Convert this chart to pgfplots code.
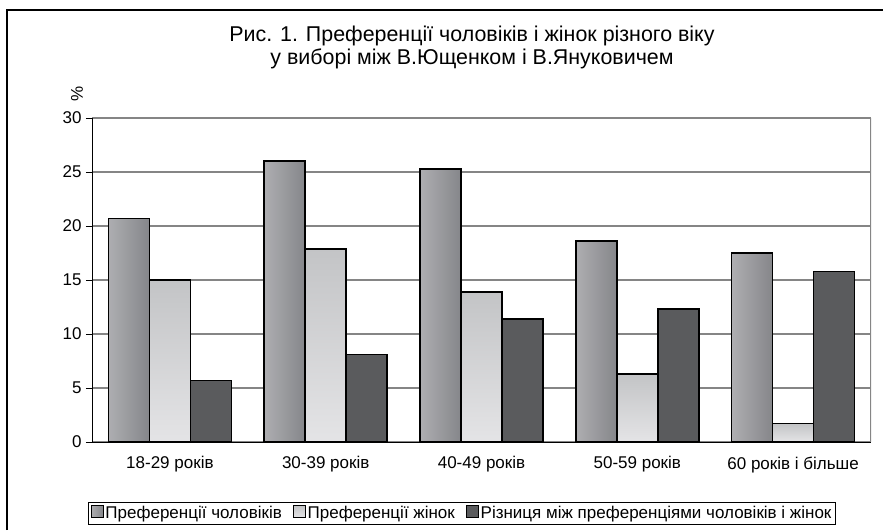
\documentclass[border=0pt]{standalone}
\usepackage{fontspec}
\setmainfont{Liberation Sans}
\usepackage{pgfplots}
\pgfplotsset{compat=1.18}
\definecolor{menL}{HTML}{AEAEB1}
\definecolor{menR}{HTML}{85868A}
\definecolor{womT}{HTML}{C3C4C6}
\definecolor{womB}{HTML}{E4E4E6}
\definecolor{diffC}{HTML}{5A5B5D}
\definecolor{gridC}{HTML}{858585}
\pgfplotsset{
  menbar/.style={draw=black, line width=1.7pt, left color=menL, right color=menR, bar shift=-41pt, forget plot},
  wombar/.style={draw=black, line width=1.7pt, top color=womT, bottom color=womB, bar shift=0pt, forget plot},
  difbar/.style={draw=black, line width=1.7pt, fill=diffC, bar shift=41pt, forget plot},
}
\begin{document}
\begin{tikzpicture}
\useasboundingbox (0pt,0pt) rectangle (883pt,530pt);
\draw[line width=1.2pt] (7pt,0pt) -- (7pt,520pt) -- (884pt,520pt);
\node[anchor=base,font=\fontsize{21.4}{24}\selectfont] at (472pt,488pt) {Рис. 1. Преференції чоловіків і жінок різного віку};
\node[anchor=base,font=\fontsize{21.4}{24}\selectfont] at (472pt,465pt) {у виборі між В.Ющенком і В.Януковичем};
\node[rotate=90,font=\fontsize{17}{20}\selectfont] at (77pt,436pt) {\%};
\begin{axis}[
  at={(92pt,88pt)}, anchor=south west,
  width=779pt, height=324pt, scale only axis,
  xmin=-0.5, xmax=4.5, ymin=0, ymax=30,
  ybar, bar width=41pt,
  ytick={0,5,...,30},
  xtick={0,1,2,3,4},
  xticklabels={18-29 років,30-39 років,40-49 років,50-59 років,60 років і більше},
  extra x ticks={0.5,1.5,2.5,3.5},
  extra x tick labels={},
  extra x tick style={major tick length=6pt, tick style={black, line width=0.8pt}},
  major x tick style={draw=none},
  tick align=outside,
  xtick pos=bottom, ytick pos=left,
  major tick length=6pt,
  ytick style={black, line width=0.8pt},
  axis x line*=bottom, axis y line*=left,
  axis line style={black, line width=1pt, -},
  ymajorgrids, grid style={gridC, line width=1.3pt},
  ticklabel style={font=\fontsize{17}{20}\selectfont},
  /pgf/number format/assume math mode=true,
  yticklabel style={xshift=-1pt},
  xticklabel style={yshift=-5pt},
  legend columns=-1,
  legend style={at={(0.475,-0.219)}, anchor=center, draw=black, line width=0.6pt,
    font=\fontsize{17}{20}\selectfont, inner sep=2pt,
    /tikz/every even column/.append style={column sep=9pt}},
  legend image code/.code={\draw[#1, line width=0.8pt] (0pt,-4.5pt) rectangle (12pt,7.5pt);},
  legend cell align=left,
]
% Преференції чоловіків
\addplot[menbar] coordinates {(0,20.7)};
\addplot[menbar] coordinates {(1,26.0)};
\addplot[menbar] coordinates {(2,25.3)};
\addplot[menbar] coordinates {(3,18.6)};
\addplot[menbar] coordinates {(4,17.5)};
% Преференції жінок
\addplot[wombar] coordinates {(0,15.0)};
\addplot[wombar] coordinates {(1,17.9)};
\addplot[wombar] coordinates {(2,13.9)};
\addplot[wombar] coordinates {(3,6.3)};
\addplot[wombar] coordinates {(4,1.7)};
% Різниця
\addplot[difbar] coordinates {(0,5.7)};
\addplot[difbar] coordinates {(1,8.1)};
\addplot[difbar] coordinates {(2,11.4)};
\addplot[difbar] coordinates {(3,12.3)};
\addplot[difbar] coordinates {(4,15.8)};
\addlegendimage{draw=black, left color=menL, right color=menR}
\addlegendentry{Преференції чоловіків}
\addlegendimage{draw=black, top color=womT, bottom color=womB}
\addlegendentry{Преференції жінок}
\addlegendimage{draw=black, fill=diffC}
\addlegendentry{Різниця між преференціями чоловіків і жінок}
\draw[gridC, line width=1.3pt] (rel axis cs:1,0) -- (rel axis cs:1,1);
\end{axis}
\end{tikzpicture}
\end{document}
